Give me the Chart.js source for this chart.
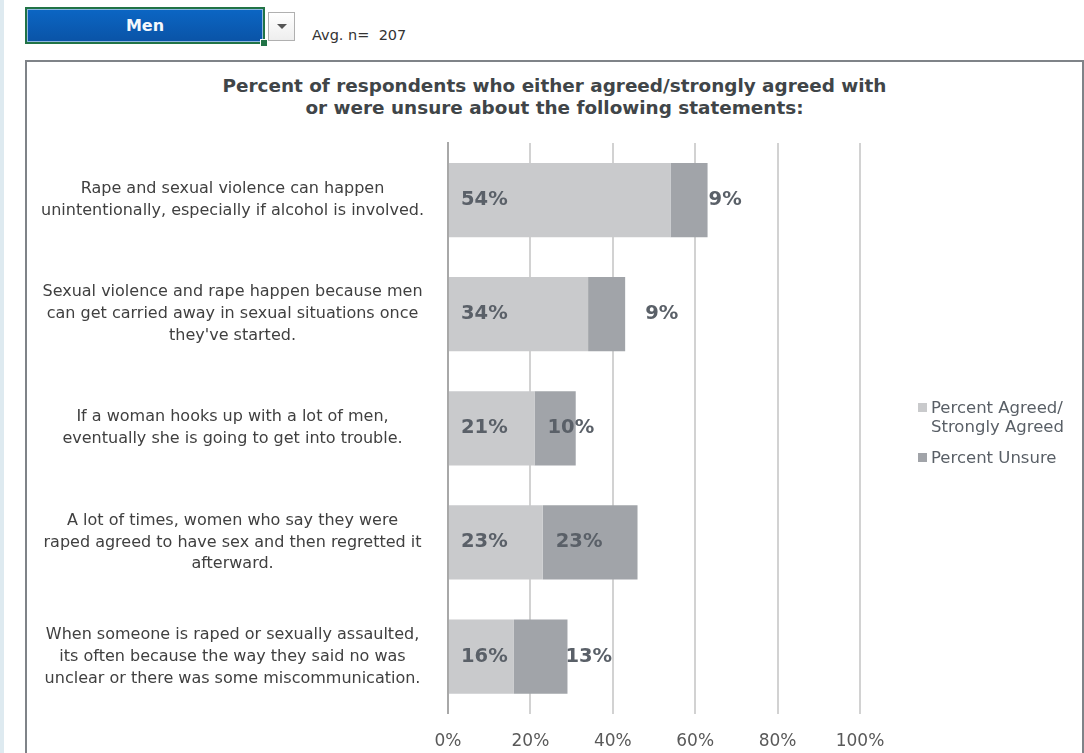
<!DOCTYPE html>
<html lang="en">
<head>
<meta charset="UTF-8">
<title>Percent of respondents - Men</title>
<script src="https://cdn.jsdelivr.net/npm/chart.js"></script>
<style>
    body {
        margin: 0;
        width: 1084px;
        height: 753px;
        overflow: hidden;
        background: #ffffff;
        font-family: 'DejaVu Sans', Verdana, sans-serif;
        position: relative;
    }
    .strip {
        position: absolute; left: 0; top: 0; width: 4px; height: 753px;
        background: #deeaf0;
    }
    .selector {
        position: absolute; left: 25px; top: 7px; width: 236px; height: 33px;
        border: 2px solid #217346;
        background: linear-gradient(#0b66c4, #0a53a6);
        box-shadow: inset 0 0 0 1px #8fb6e0;
        color: #f4f8fc; font-weight: bold; font-size: 16px;
        text-align: center; line-height: 33px;
    }
    .selector .handle {
        position: absolute; right: -5px; bottom: -5px; width: 6px; height: 6px;
        background: #217346; border: 1px solid #fff;
    }
    .dropdown {
        position: absolute; left: 268px; top: 12px; width: 25px; height: 27px;
        border: 1px solid #b0b0b0; background: linear-gradient(#ffffff, #eeeeee);
    }
    .dropdown:after {
        content: ''; position: absolute; left: 8px; top: 11px;
        border-left: 5px solid transparent; border-right: 5px solid transparent;
        border-top: 5px solid #555;
    }
    .avg {
        position: absolute; left: 312px; top: 27px; font-size: 14.5px; color: #333;
    }
    .frame {
        position: absolute; left: 25px; top: 60px; width: 1055px; height: 730px;
        border: 2px solid #7f8388; border-bottom: none;
    }
    .title {
        position: absolute; left: 0; top: 13px; width: 1055px; text-align: center;
        font-weight: bold; font-size: 18.4px; line-height: 22px; color: #404548;
    }
    .chart-box {
        position: absolute; left: 0; top: 0; width: 1055px; height: 711px;
    }
    .legend {
        position: absolute; left: 891px; top: 336px; color: #595f66; font-size: 16.5px;
        line-height: 19px;
    }
    .legend .item { position: relative; padding-left: 13px; margin-bottom: 12px; }
    .legend .sw { position: absolute; left: 0; top: 5px; width: 9px; height: 9px; }
</style>
</head>
<body>
<div class="strip"></div>
<div class="selector">Men<span class="handle"></span></div>
<div class="dropdown"></div>
<div class="avg">Avg. n=&nbsp; 207</div>

<div class="frame">
    <div class="title">Percent of respondents who either agreed/strongly agreed with<br>or were unsure about the following statements:</div>
    <div class="chart-box"><canvas id="chart"></canvas></div>
    <div class="legend" id="legend"></div>
</div>

<script>
const statements = [
    ['Rape and sexual violence can happen', 'unintentionally, especially if alcohol is involved.'],
    ['Sexual violence and rape happen because men', 'can get carried away in sexual situations once', "they've started."],
    ['If a woman hooks up with a lot of men,', 'eventually she is going to get into trouble.'],
    ['A lot of times, women who say they were', 'raped agreed to have sex and then regretted it', 'afterward.'],
    ['When someone is raped or sexually assaulted,', 'its often because the way they said no was', 'unclear or there was some miscommunication.']
];
const agreed = [54, 34, 21, 23, 16];
const unsure = [9, 9, 10, 23, 13];
const seriesNames = [['Percent Agreed/', 'Strongly Agreed'], ['Percent Unsure']];
const xTicks = [0, 20, 40, 60, 80, 100];

// where the "unsure" label sits: after the bar end or inside from its start
const unsureLabelAnchor = ['end', 'end', 'start', 'start', 'end'];
const unsureLabelGap = [1, 20, 13, 13, -2];

const colors = ['#c9cacc', '#a1a4a9'];

const barLabels = {
    id: 'barLabels',
    afterDatasetsDraw(chart) {
        const ctx = chart.ctx;
        ctx.save();
        ctx.font = 'bold 19.5px "DejaVu Sans"';
        ctx.fillStyle = '#5a6068';
        ctx.textBaseline = 'middle';
        ctx.textAlign = 'left';
        chart.getDatasetMeta(0).data.forEach((bar, i) => {
            ctx.fillText(agreed[i] + '%', bar.base + 12, bar.y);
        });
        chart.getDatasetMeta(1).data.forEach((bar, i) => {
            const x = unsureLabelAnchor[i] === 'end' ? bar.x + unsureLabelGap[i] : bar.base + unsureLabelGap[i];
            ctx.fillText(unsure[i] + '%', x, bar.y);
        });
        ctx.restore();
    }
};

const chart = new Chart(document.getElementById('chart'), {
    type: 'bar',
    data: {
        labels: statements,
        datasets: [
            { label: seriesNames[0], data: agreed, backgroundColor: colors[0] },
            { label: seriesNames[1], data: unsure, backgroundColor: colors[1] }
        ]
    },
    options: {
        indexAxis: 'y',
        responsive: true,
        maintainAspectRatio: false,
        animation: false,
        datasets: {
            bar: { categoryPercentage: 1, barPercentage: 0.65, borderWidth: 0 }
        },
        layout: { padding: { left: 9, right: 222, top: 81, bottom: 3 } },
        plugins: {
            legend: { display: false },
            tooltip: { enabled: false }
        },
        scales: {
            x: {
                stacked: true,
                min: 0,
                max: 100,
                afterBuildTicks: axis => { axis.ticks = xTicks.map(v => ({ value: v })); },
                ticks: {
                    callback: v => v + '%',
                    color: '#595959',
                    font: { family: 'DejaVu Sans', size: 17 },
                    padding: 18
                },
                grid: { color: '#d2d2d2', lineWidth: 2, drawTicks: false },
                border: { display: false }
            },
            y: {
                stacked: true,
                ticks: {
                    color: '#404040',
                    font: { family: 'DejaVu Sans', size: 16, lineHeight: 1.37 },
                    crossAlign: 'center',
                    padding: 16
                },
                grid: { display: false },
                border: { color: '#a8a8a8', width: 2 }
            }
        }
    },
    plugins: [barLabels]
});

// legend built from the chart's datasets
const legendEl = document.getElementById('legend');
chart.data.datasets.forEach(ds => {
    const item = document.createElement('div');
    item.className = 'item';
    const sw = document.createElement('span');
    sw.className = 'sw';
    sw.style.background = ds.backgroundColor;
    item.appendChild(sw);
    const lines = Array.isArray(ds.label) ? ds.label : [ds.label];
    lines.forEach((line, k) => {
        if (k) item.appendChild(document.createElement('br'));
        item.appendChild(document.createTextNode(line));
    });
    legendEl.appendChild(item);
});
</script>
</body>
</html>
